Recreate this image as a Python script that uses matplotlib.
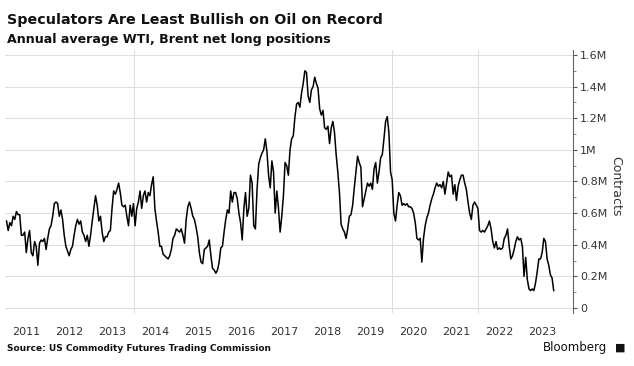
import pandas as pd
import numpy as np
import matplotlib
matplotlib.use("Agg")
import matplotlib.pyplot as plt
from datetime import datetime

# net long positions, million contracts, read roughly every two weeks
pos_2011_2015 = [
    0.55, 0.49, 0.54, 0.52, 0.58, 0.56, 0.61, 0.59, 0.59, 0.46, 0.46, 0.48,
    0.35, 0.44, 0.49, 0.35, 0.33, 0.42, 0.39, 0.27, 0.41, 0.43, 0.42, 0.44,
    0.37, 0.44, 0.50, 0.52, 0.58, 0.66, 0.67, 0.66, 0.58, 0.62, 0.56, 0.46,
    0.39, 0.36, 0.33, 0.37, 0.39, 0.46, 0.52, 0.56, 0.53, 0.55, 0.48, 0.46,
    0.42, 0.46, 0.39, 0.46, 0.55, 0.63, 0.71, 0.65, 0.55, 0.58, 0.48, 0.42,
    0.45, 0.45, 0.48, 0.49, 0.63, 0.74, 0.72, 0.75, 0.79, 0.73, 0.65, 0.64,
    0.65, 0.58, 0.52, 0.65, 0.58, 0.66, 0.52, 0.63, 0.67, 0.74, 0.63, 0.71,
    0.74, 0.67, 0.73, 0.71, 0.78, 0.83, 0.63, 0.55, 0.48, 0.39, 0.39, 0.34,
    0.33, 0.32, 0.31, 0.33, 0.37, 0.44, 0.46, 0.50, 0.49, 0.48, 0.50, 0.46,
    0.41, 0.56, 0.64, 0.67, 0.63, 0.58, 0.56, 0.51,
]
pos_2015_2019 = [
    0.45, 0.35, 0.29, 0.28, 0.37, 0.38, 0.39, 0.43, 0.33, 0.25, 0.24, 0.22,
    0.24, 0.29, 0.38, 0.39, 0.48, 0.56, 0.62, 0.60, 0.74, 0.67, 0.73, 0.73,
    0.69, 0.60, 0.54, 0.43, 0.63, 0.73, 0.58, 0.63, 0.84, 0.79, 0.52, 0.50,
    0.75, 0.91, 0.95, 0.98, 1.00, 1.07, 0.99, 0.84, 0.76, 0.93, 0.86, 0.60,
    0.74, 0.63, 0.48, 0.58, 0.71, 0.92, 0.90, 0.84, 1.00, 1.07, 1.09, 1.21,
    1.29, 1.30, 1.27, 1.36, 1.42, 1.50, 1.49, 1.34, 1.30, 1.38, 1.40, 1.46,
    1.42, 1.39, 1.26, 1.22, 1.25, 1.14, 1.13, 1.15, 1.04, 1.14, 1.18, 1.11,
    0.97, 0.86, 0.73, 0.53, 0.50, 0.48, 0.44, 0.50, 0.58, 0.59, 0.65, 0.76,
    0.86, 0.96, 0.92, 0.89, 0.64, 0.69, 0.74, 0.79, 0.77, 0.79, 0.75, 0.88,
    0.92, 0.79, 0.86, 0.95, 0.97, 1.07, 1.18, 1.21, 1.11, 0.86, 0.81, 0.60,
]
pos_2019_2023 = [
    0.55, 0.65, 0.73, 0.71, 0.65, 0.66, 0.65, 0.66, 0.64, 0.64, 0.63, 0.60,
    0.54, 0.44, 0.43, 0.44, 0.29, 0.44, 0.52, 0.57, 0.60, 0.65, 0.69, 0.72,
    0.76, 0.79, 0.77, 0.78, 0.76, 0.80, 0.72, 0.79, 0.86, 0.83, 0.84, 0.72,
    0.78, 0.68, 0.77, 0.81, 0.84, 0.84, 0.79, 0.75, 0.67, 0.60, 0.56, 0.65,
    0.67, 0.65, 0.63, 0.49, 0.48, 0.49, 0.48, 0.50, 0.52, 0.55, 0.50, 0.42,
    0.38, 0.42, 0.37, 0.38, 0.37, 0.38, 0.44, 0.46, 0.50, 0.39, 0.31, 0.33,
    0.37, 0.42, 0.45, 0.43, 0.44, 0.39, 0.20, 0.32, 0.18, 0.12, 0.11, 0.12,
    0.11, 0.16, 0.23, 0.31, 0.31, 0.35, 0.44, 0.42, 0.31, 0.27, 0.21, 0.19,
    0.11,
]
positions = pos_2011_2015 + pos_2015_2019 + pos_2019_2023
dates = pd.date_range("2011-01-14", periods=len(positions), freq="14D")

years = list(range(2011, 2024))
ytick_vals = [0, 0.2, 0.4, 0.6, 0.8, 1.0, 1.2, 1.4, 1.6]
ytick_labels = ["0", "0.2M", "0.4M", "0.6M", "0.8M", "1M", "1.2M", "1.4M", "1.6M"]

fig = plt.figure(figsize=(6.34, 3.66), dpi=100)
ax = fig.add_axes([0.0079, 0.1448, 0.8959, 0.7186])

for v in ytick_vals:
    ax.axhline(v, color="#dcdcdc", lw=0.7, zorder=0)
for yr in [2014, 2020, 2022]:
    ax.axvline(datetime(yr, 1, 1), color="#dcdcdc", lw=0.7, zorder=0)

ax.plot(dates, positions, color="black", lw=1.1, zorder=3)

ax.set_ylim(-0.032, 1.632)
ax.set_xlim(datetime(2011, 1, 1), datetime(2024, 3, 18))

ax.yaxis.tick_right()
ax.set_yticks(ytick_vals)
ax.set_yticklabels(ytick_labels)
ax.set_yticks(np.arange(0.1, 1.6, 0.2), minor=True)
ax.tick_params(axis="y", which="major", length=3, width=0.8, color="#555555",
               labelsize=8, labelcolor="#333333", pad=2)
ax.tick_params(axis="y", which="minor", length=2, width=0.6, color="#777777")

ax.set_xticks([datetime(y, 7, 1) for y in years])
ax.set_xticklabels([str(y) for y in years])
ax.tick_params(axis="x", length=0, labelsize=8, labelcolor="#333333", pad=10)

for s in ["top", "left", "bottom"]:
    ax.spines[s].set_visible(False)
ax.spines["right"].set_color("#666666")
ax.spines["right"].set_linewidth(0.8)

fig.text(0.972, 0.49, "Contracts", rotation=-90, fontsize=9, color="#333333",
         ha="center", va="center")

fig.text(0.011, 0.945, "Speculators Are Least Bullish on Oil on Record",
         fontsize=10.3, fontweight="bold", color="#111111", va="center")
fig.text(0.011, 0.893, "Annual average WTI, Brent net long positions",
         fontsize=9.1, fontweight="bold", color="#111111", va="center")
fig.text(0.011, 0.048, "Source: US Commodity Futures Trading Commission",
         fontsize=6.5, fontweight="bold", color="#111111", va="center")
fig.text(0.958, 0.05, "Bloomberg", fontsize=8.5, color="#111111",
         ha="right", va="center")
fig.text(0.978, 0.05, "\u25a0", fontsize=8, color="#111111",
         ha="center", va="center")

fig.savefig("out.png", dpi=100)
